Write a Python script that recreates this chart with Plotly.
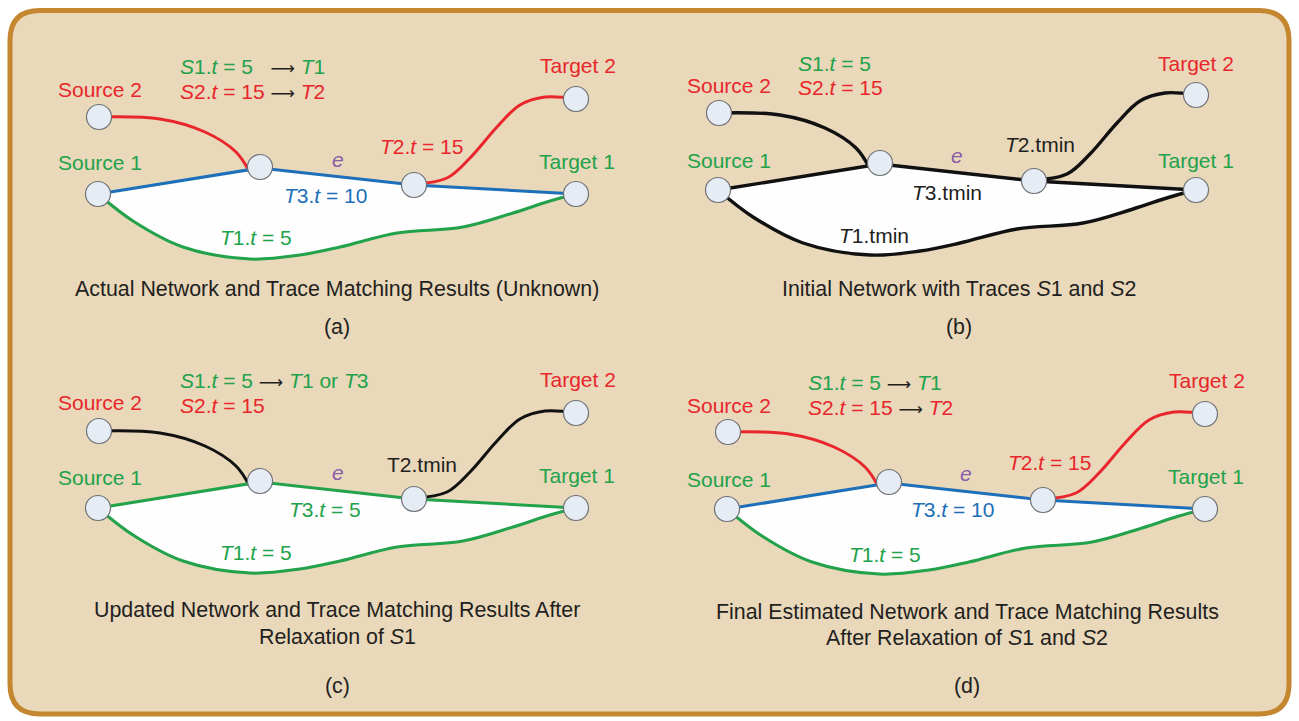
import plotly.graph_objects as go

# ---------------- data ----------------
# network nodes, panel (a) frame in px: Source 2, Source 1, junction, node after e, Target 1, Target 2
NODE_X = [99, 98, 260, 414, 576, 576]
NODE_Y = [117, 194, 167, 185, 194, 99]

# edges (control points, panel (a) frame)
EDGE_S2_X = [99, 160, 205, 236, 249]
EDGE_S2_Y = [117, 119, 132, 152, 171]
EDGE_TOP_X = [98, 260, 414, 576]
EDGE_TOP_Y = [194, 168, 185, 194]
EDGE_LOW_X = [98, 133, 183, 250, 300, 340, 397, 463, 513, 550, 576]
EDGE_LOW_Y = [194, 221, 247, 259, 255, 247, 233, 227, 213, 201, 194]
EDGE_T2_X = [414, 447, 470, 497, 520, 545, 576]
EDGE_T2_Y = [184, 178, 158, 127, 105, 97, 99]

# panels: offsets of the network copy
PANELS = ["a", "b", "c", "d"]
PANEL_DX = [0, 620, 0, 629]
PANEL_DY = [0, -4, 314, 315]

RED = "#E8262B"
GREEN = "#22A24A"
BLUE = "#1C6FB8"
BLACK = "#111111"
PURPLE = "#8B5CA8"
TXT = "#231F20"

# edge colours per panel: (Source2 edge, top edges, lower edge, Target2 edge)
EDGE_COLORS = [
    [RED, BLUE, GREEN, RED],
    [BLACK, BLACK, BLACK, BLACK],
    [BLACK, GREEN, GREEN, BLACK],
    [RED, BLUE, GREEN, RED],
]
EDGE_WIDTHS = [3, 3.4, 3, 3]

ARROW = "<span style='color:#231F20;font-family:DejaVu Sans;font-size:17px'>⟶</span>"
NB = "\u00a0"

# labels: text, x, baseline y, colour, anchor
LABELS = [
    # (a)
    ("Source 2", 100, 97, RED, "center"),
    ("Source 1", 100, 170, GREEN, "center"),
    ("Target 2", 578, 73, RED, "center"),
    ("Target 1", 577, 169, GREEN, "center"),
    ("<i>S</i>1.<i>t</i> = 5" + NB * 3 + ARROW + " <i>T</i>1", 178, 74, GREEN, "left"),
    ("<i>S</i>2.<i>t</i> = 15 " + ARROW + " <i>T</i>2", 178, 99, RED, "left"),
    ("<i>e</i>", 338, 167, PURPLE, "center"),
    ("<i>T</i>3.<i>t</i> = 10", 282, 203, BLUE, "left"),
    ("<i>T</i>2.<i>t</i> = 15", 378, 154, RED, "left"),
    ("<i>T</i>1.<i>t</i> = 5", 218, 245, GREEN, "left"),
    # (b)
    ("Source 2", 729, 93, RED, "center"),
    ("Source 1", 729, 168, GREEN, "center"),
    ("Target 2", 1196, 71, RED, "center"),
    ("Target 1", 1196, 168, GREEN, "center"),
    ("<i>S</i>1.<i>t</i> = 5", 796, 71, GREEN, "left"),
    ("<i>S</i>2.<i>t</i> = 15", 796, 95, RED, "left"),
    ("<i>e</i>", 957, 163, PURPLE, "center"),
    ("<i>T</i>3.tmin", 910, 200, TXT, "left"),
    ("<i>T</i>1.tmin", 837, 243, TXT, "left"),
    ("<i>T</i>2.tmin", 1003, 152, TXT, "left"),
    # (c)
    ("Source 2", 100, 410, RED, "center"),
    ("Source 1", 100, 485, GREEN, "center"),
    ("Target 2", 578, 387, RED, "center"),
    ("Target 1", 577, 483, GREEN, "center"),
    ("<i>S</i>1.<i>t</i> = 5 " + ARROW + " <i>T</i>1 or <i>T</i>3", 178, 388, GREEN, "left"),
    ("<i>S</i>2.<i>t</i> = 15", 178, 413, RED, "left"),
    ("<i>e</i>", 338, 480, PURPLE, "center"),
    ("T2.tmin", 385, 472, TXT, "left"),
    ("<i>T</i>3.<i>t</i> = 5", 287, 517, GREEN, "left"),
    ("<i>T</i>1.<i>t</i> = 5", 218, 560, GREEN, "left"),
    # (d)
    ("Source 2", 729, 413, RED, "center"),
    ("Source 1", 729, 487, GREEN, "center"),
    ("Target 2", 1207, 388, RED, "center"),
    ("Target 1", 1206, 484, GREEN, "center"),
    ("<i>S</i>1.<i>t</i> = 5 " + ARROW + " <i>T</i>1", 806, 390, GREEN, "left"),
    ("<i>S</i>2.<i>t</i> = 15 " + ARROW + " <i>T</i>2", 806, 415, RED, "left"),
    ("<i>e</i>", 966, 481, PURPLE, "center"),
    ("<i>T</i>2.<i>t</i> = 15", 1006, 470, RED, "left"),
    ("<i>T</i>3.<i>t</i> = 10", 909, 517, BLUE, "left"),
    ("<i>T</i>1.<i>t</i> = 5", 847, 562, GREEN, "left"),
]

# captions: text, centre x, middle y
CAPTIONS = [
    ("Actual Network and Trace Matching Results (Unknown)", 337, 289),
    ("(a)", 337, 327),
    ("Initial Network with Traces <i>S</i>1 and <i>S</i>2", 959, 289),
    ("(b)", 959, 327),
    ("Updated Network and Trace Matching Results After", 337, 610),
    ("Relaxation of <i>S</i>1", 337, 637),
    ("(c)", 337, 686),
    ("Final Estimated Network and Trace Matching Results", 967, 612),
    ("After Relaxation of <i>S</i>1 and <i>S</i>2", 967, 638),
    ("(d)", 967, 686),
]

# frame
FRAME_X0, FRAME_X1, FRAME_Y0, FRAME_Y1, FRAME_R = 10, 1289, 10.5, 714, 30
W, H = 1299, 721

FONT = "Liberation Sans, Arial, Helvetica, sans-serif"
FS = 21
FS_CAP = 21.4

# ---------------- figure ----------------
fig = go.Figure()


def shift(xs, ys, dx, dy):
    return [x + dx for x in xs], [y + dy for y in ys]


for p, dx, dy, cols, lw in zip(PANELS, PANEL_DX, PANEL_DY, EDGE_COLORS, EDGE_WIDTHS):
    # white fill between upper path and lower curve
    lx, ly = shift(EDGE_LOW_X, EDGE_LOW_Y, dx, dy)
    fig.add_trace(go.Scatter(x=lx, y=ly, mode="lines", fill="toself", fillcolor="#FEFEFE",
                             line=dict(width=0, shape="spline", smoothing=1), hoverinfo="skip",
                             showlegend=False))
    ux, uy = shift(EDGE_TOP_X, EDGE_TOP_Y, dx, dy)
    fig.add_trace(go.Scatter(x=ux, y=uy, mode="lines", fill="toself", fillcolor="#FEFEFE",
                             line=dict(width=0), hoverinfo="skip", showlegend=False))
    # edges
    sx, sy = shift(EDGE_S2_X, EDGE_S2_Y, dx, dy)
    fig.add_trace(go.Scatter(x=sx, y=sy, mode="lines",
                             line=dict(color=cols[0], width=lw, shape="spline", smoothing=1),
                             hoverinfo="skip", showlegend=False))
    fig.add_trace(go.Scatter(x=ux, y=uy, mode="lines",
                             line=dict(color=cols[1], width=lw),
                             hoverinfo="skip", showlegend=False))
    fig.add_trace(go.Scatter(x=lx, y=ly, mode="lines",
                             line=dict(color=cols[2], width=lw, shape="spline", smoothing=1),
                             hoverinfo="skip", showlegend=False))
    tx, ty = shift(EDGE_T2_X, EDGE_T2_Y, dx, dy)
    fig.add_trace(go.Scatter(x=tx, y=ty, mode="lines",
                             line=dict(color=cols[3], width=lw, shape="spline", smoothing=1),
                             hoverinfo="skip", showlegend=False))
    # nodes
    nx, ny = shift(NODE_X, NODE_Y, dx, dy)
    fig.add_trace(go.Scatter(x=nx, y=ny, mode="markers",
                             marker=dict(size=25, color="#E6ECF4",
                                         line=dict(color="#6E7176", width=1.2)),
                             hoverinfo="skip", showlegend=False))

annotations = []
for text, x, yb, col, anchor in LABELS:
    annotations.append(dict(x=x, y=yb - 7.5, xref="x", yref="y", text=text, showarrow=False,
                            xanchor=anchor, yanchor="middle",
                            font=dict(family=FONT, size=FS, color=col)))
for text, x, ym in CAPTIONS:
    annotations.append(dict(x=x, y=ym, xref="x", yref="y", text=text, showarrow=False,
                            xanchor="center", yanchor="middle",
                            font=dict(family=FONT, size=FS_CAP, color=TXT)))

r = FRAME_R
frame_path = (
    f"M {FRAME_X0 + r},{FRAME_Y0} L {FRAME_X1 - r},{FRAME_Y0} "
    f"Q {FRAME_X1},{FRAME_Y0} {FRAME_X1},{FRAME_Y0 + r} "
    f"L {FRAME_X1},{FRAME_Y1 - r} Q {FRAME_X1},{FRAME_Y1} {FRAME_X1 - r},{FRAME_Y1} "
    f"L {FRAME_X0 + r},{FRAME_Y1} Q {FRAME_X0},{FRAME_Y1} {FRAME_X0},{FRAME_Y1 - r} "
    f"L {FRAME_X0},{FRAME_Y0 + r} Q {FRAME_X0},{FRAME_Y0} {FRAME_X0 + r},{FRAME_Y0} Z"
)

fig.update_layout(
    width=W, height=H,
    margin=dict(l=0, r=0, t=0, b=0),
    paper_bgcolor="white", plot_bgcolor="white",
    xaxis=dict(range=[0, W], visible=False, fixedrange=True),
    yaxis=dict(range=[H, 0], visible=False, fixedrange=True),
    shapes=[dict(type="path", path=frame_path, xref="x", yref="y",
                 fillcolor="#E9D8BA", line=dict(color="#C4862F", width=5), layer="below")],
    annotations=annotations,
    showlegend=False,
)

fig.write_html("out.html", config={"displayModeBar": False},
               post_script="document.body.style.margin='0px';")
